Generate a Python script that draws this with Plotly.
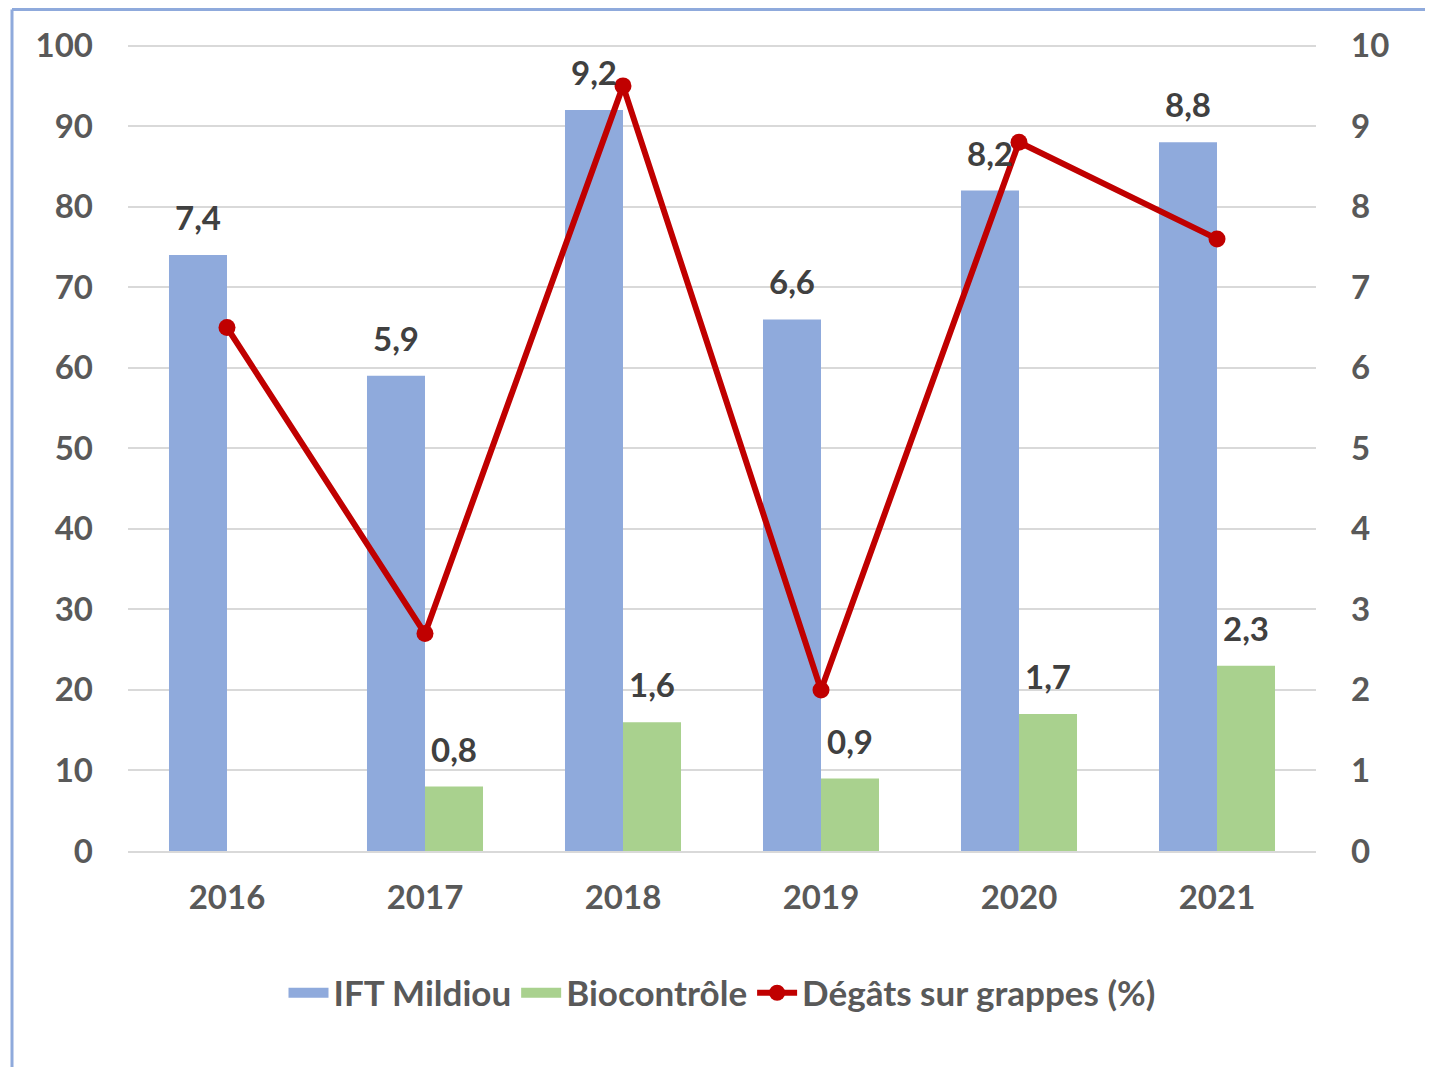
import plotly.graph_objects as go

years = ["2016", "2017", "2018", "2019", "2020", "2021"]
ift_mildiou = [7.4, 5.9, 9.2, 6.6, 8.2, 8.8]
biocontrole = [None, 0.8, 1.6, 0.9, 1.7, 2.3]
degats = [65, 27, 95, 20, 88, 76]

FONT = "Lato"
TICK_COL = "#595959"
LABEL_COL = "#404040"
FS = 33
BLUE, GREEN, RED = "#8FAADC", "#A9D18E", "#C00000"

fig = go.Figure()
fig.add_trace(go.Bar(
    x=years, y=ift_mildiou, name="IFT Mildiou", yaxis="y",
    marker=dict(color=BLUE, line=dict(width=0)),
    legendgroup="ift", showlegend=False,
))
fig.add_trace(go.Bar(
    x=years, y=biocontrole, name="Biocontrôle", yaxis="y",
    marker=dict(color=GREEN, line=dict(width=0)),
    legendgroup="bio", showlegend=False,
))
fig.add_trace(go.Scatter(
    x=years, y=degats, name="Dégâts sur grappes (%)", yaxis="y2",
    mode="lines+markers",
    line=dict(color=RED, width=6),
    marker=dict(color=RED, size=17),
    cliponaxis=False, legendrank=3,
))
# legend entries for the bars (wide rectangular swatches, like the original)
fig.add_trace(go.Scatter(
    x=[None], y=[None], name="IFT Mildiou", mode="lines", yaxis="y",
    line=dict(color=BLUE, width=22), legendgroup="ift", legendrank=1,
    hoverinfo="skip",
))
fig.add_trace(go.Scatter(
    x=[None], y=[None], name="Biocontrôle", mode="lines", yaxis="y",
    line=dict(color=GREEN, width=22), legendgroup="bio", legendrank=2,
    hoverinfo="skip",
))

# value labels above bars (x given as category index)
annotations = []
for series, shift in ((ift_mildiou, -29), (biocontrole, 29)):
    for i, v in enumerate(series):
        if v is None:
            continue
        annotations.append(dict(
            x=i, y=v, xref="x", yref="y", xshift=shift, yshift=16,
            text=f"{v:.1f}".replace(".", ","), showarrow=False,
            yanchor="bottom", xanchor="center",
            font=dict(family=FONT, size=FS, color=LABEL_COL, weight="bold"),
        ))

W, H = 1425, 1059
L, R, T, B = 120, 117, 36, 216
pw, ph = W - L - R, H - T - B

fig.update_layout(
    width=W, height=H,
    margin=dict(l=L, r=R, t=T, b=B, autoexpand=False),
    paper_bgcolor="white", plot_bgcolor="white",
    separators=", ",
    barmode="group", bargap=0.414, bargroupgap=0,
    font=dict(family=FONT, size=FS, color=TICK_COL, weight="bold"),
    annotations=annotations,
    xaxis=dict(
        type="category", range=[-0.5, len(years) - 0.5],
        showgrid=False, showline=True, linecolor="#D9D9D9", linewidth=2,
        ticks="", tickfont=dict(family=FONT, size=FS, color=TICK_COL, weight="bold"),
        ticklabelstandoff=16,
    ),
    yaxis=dict(
        side="right", range=[0, 10.02], tickvals=list(range(0, 11)),
        showgrid=False, zeroline=False,
        tickfont=dict(family=FONT, size=FS, color=TICK_COL, weight="bold"),
        ticklabelstandoff=34,
    ),
    yaxis2=dict(
        overlaying="y", side="left", range=[0, 100.2], tickvals=list(range(0, 101, 10)),
        showgrid=True, gridcolor="#D9D9D9", gridwidth=2, zeroline=False,
        tickfont=dict(family=FONT, size=FS, color=TICK_COL, weight="bold"),
        ticklabelstandoff=34,
    ),
    legend=dict(
        orientation="h", x=0.5, xanchor="center", y=(H - B - 985) / ph, yanchor="middle",
        font=dict(family=FONT, size=35, color=TICK_COL, weight="bold"),
        traceorder="normal", itemwidth=40,
    ),
    showlegend=True,
)

# chart frame (top and left edges)
x_left = (4 - L) / pw
y_top = (H - B - 1.5) / ph
fig.add_shape(type="line", xref="paper", yref="paper", x0=x_left, x1=(W + 10 - L) / pw,
              y0=y_top, y1=y_top, line=dict(color=BLUE, width=3))
fig.add_shape(type="line", xref="paper", yref="paper", x0=x_left, x1=x_left,
              y0=y_top, y1=(H - B - H - 10) / ph, line=dict(color=BLUE, width=3))

fig.write_html("out.html")
